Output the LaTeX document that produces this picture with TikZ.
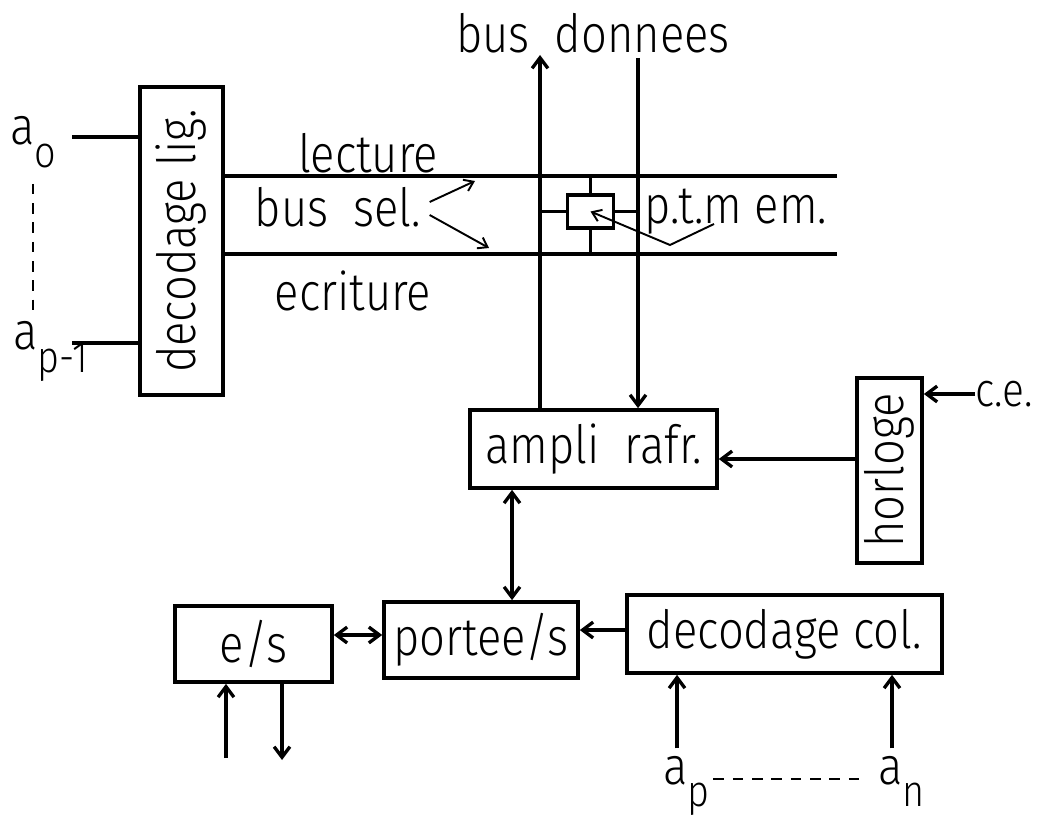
\documentclass[tikz,border=0pt]{standalone}
\usepackage{fontspec}
\setmainfont{Fira Sans}[UprightFont=* Light, FakeStretch=0.86]
\usetikzlibrary{arrows.meta, positioning, calc}
\newcommand{\lowidx}[1]{\raisebox{-0.42em}{\fontsize{25}{25}\selectfont #1}}
\tikzset{
	blk/.style ={rectangle, draw=black, line width=2.1pt, inner sep=0pt, align=center, font=\fontsize{30}{32}\selectfont},
	lbl/.style ={inner sep=0pt, font=\fontsize{30}{32}\selectfont},
	wire/.style={line width=1.9pt},
	sig/.style ={-{Straight Barb[length=6pt,width=9pt]}, line width=1.9pt},
	dsig/.style={{Straight Barb[length=6pt,width=9pt]}-{Straight Barb[length=6pt,width=9pt]}, line width=1.9pt},
	ptr/.style ={-{Straight Barb[length=5pt,width=7pt]}, line width=1.1pt},
	dashl/.style={line width=1.5pt, dash pattern=on 6pt off 5pt},
}
\begin{document}
\begin{tikzpicture}[x=0.02cm, y=-0.02cm]
	\useasboundingbox (0,0) rectangle (1037,820);
	% blocks
	\node[blk, rotate=90, minimum width=6.16cm, minimum height=1.66cm] (declig) at (181.5,241) {decodage lig.};
	\node[blk, rotate=90, minimum width=3.7cm, minimum height=1.3cm] (horloge) at (889.5,470.5) {horloge};
	\node[blk, minimum width=4.94cm, minimum height=1.56cm] (ampli) at (593.5,449) {ampli\ \ rafr.};
	\node[blk, minimum width=3.88cm, minimum height=1.52cm] (portee) at (481,640) {portee/s};
	\node[blk, minimum width=3.14cm, minimum height=1.52cm] (es) at (253.5,644) {e/s};
	\node[blk, minimum width=6.3cm, minimum height=1.56cm] (deccol) at (784.5,634) {decodage col.};
	\node[blk, minimum width=0.92cm, minimum height=0.66cm] (cell) at (590.5,211.5) {};
	% labels
	\node[lbl] (busdon) at (593,33) {bus\ \ donnees};
	\node[lbl] (lect) at (368,153) {lecture};
	\node[lbl] (bussel) at (338,207) {bus\ \ sel.};
	\node[lbl] (ecr) at (353,291) {ecriture};
	\node[lbl] (ptm) at (736,212) {p.t.m em.};
	\node[lbl, anchor=west, font=\fontsize{27}{29}\selectfont] (ce) at (975,394) {c.e.};
	\node[lbl, anchor=base west] (a0) at (10,145) {a\lowidx{o}};
	\node[lbl, anchor=base west] (ap1) at (13,350) {a\lowidx{p-1}};
	\node[lbl, anchor=base west] (ap) at (663,784) {a\lowidx{p}};
	\node[lbl, anchor=base west] (an) at (878,784) {a\lowidx{n}};
	% free ends
	\coordinate (lecR) at (837,176);
	\coordinate (ecrR) at (837,254);
	\coordinate (busup) at (540,55);
	\coordinate (busdn) at (638,58);
	\coordinate (a0in) at (72,137);
	\coordinate (apin) at (72,343);
	\coordinate (selL) at (475,181);
	\coordinate (selE) at (489,248);
	\coordinate (ptmV) at (670,245);
	\coordinate (hk) at (0,459);
	\coordinate (ep) at (0,635);
	\coordinate (dp) at (0,630);
	\coordinate (vp) at (512,0);
	\coordinate (esin) at (226,758);
	\coordinate (esout) at (282,760);
	\coordinate (apx) at (677,0);
	\coordinate (anx) at (892,0);
	\coordinate (dv) at (33,0);
	\coordinate (hd) at (0,779);
	% row select and data bus
	\draw[wire] (a0in) -- (a0in -| declig.north);
	\draw[wire] (apin) -- (apin -| declig.north);
	\draw[dashl, shorten <=9pt, shorten >=4pt] (a0.south -| dv) -- (ap1.north -| dv);
	\draw[wire] (declig.south |- lecR) -- (lecR);
	\draw[wire] (declig.south |- ecrR) -- (ecrR);
	\draw[sig] (ampli.north -| busup) -- (busup);
	\draw[sig] (busdn) -- (ampli.north -| busdn);
	\draw[wire] (cell.north) -- (cell.north |- lecR);
	\draw[wire] (cell.south) -- (cell.south |- ecrR);
	\draw[wire] (cell.west) -- (cell.west -| busup);
	\draw[wire] (cell.east) -- (cell.east -| busdn);
	\draw[ptr] ([shift={(8,-5)}]bussel.east) -- (selL);
	\draw[ptr] ([shift={(8,8)}]bussel.east) -- (selE);
	\draw[ptr] ([shift={(-22,12)}]ptm.center) -- (ptmV) -- (cell.center);
	% clock, refresh, column side
	\draw[sig] (ce.west) -- (horloge.south |- ce.west);
	\draw[sig] (horloge.north |- hk) -- (ampli.east |- hk);
	\draw[dsig] (ampli.south -| vp) -- (portee.north -| vp);
	\draw[dsig] (es.east |- ep) -- (portee.west |- ep);
	\draw[sig] (deccol.west |- dp) -- (portee.east |- dp);
	\draw[sig] (esin) -- (es.south -| esin);
	\draw[sig] (es.south -| esout) -- (esout);
	\draw[sig, shorten <=4pt] (ap.north -| apx) -- (deccol.south -| apx);
	\draw[sig, shorten <=4pt] (an.north -| anx) -- (deccol.south -| anx);
	\draw[dashl, shorten <=2pt, shorten >=8pt] (ap.east |- hd) -- (an.west |- hd);
\end{tikzpicture}
\end{document}
